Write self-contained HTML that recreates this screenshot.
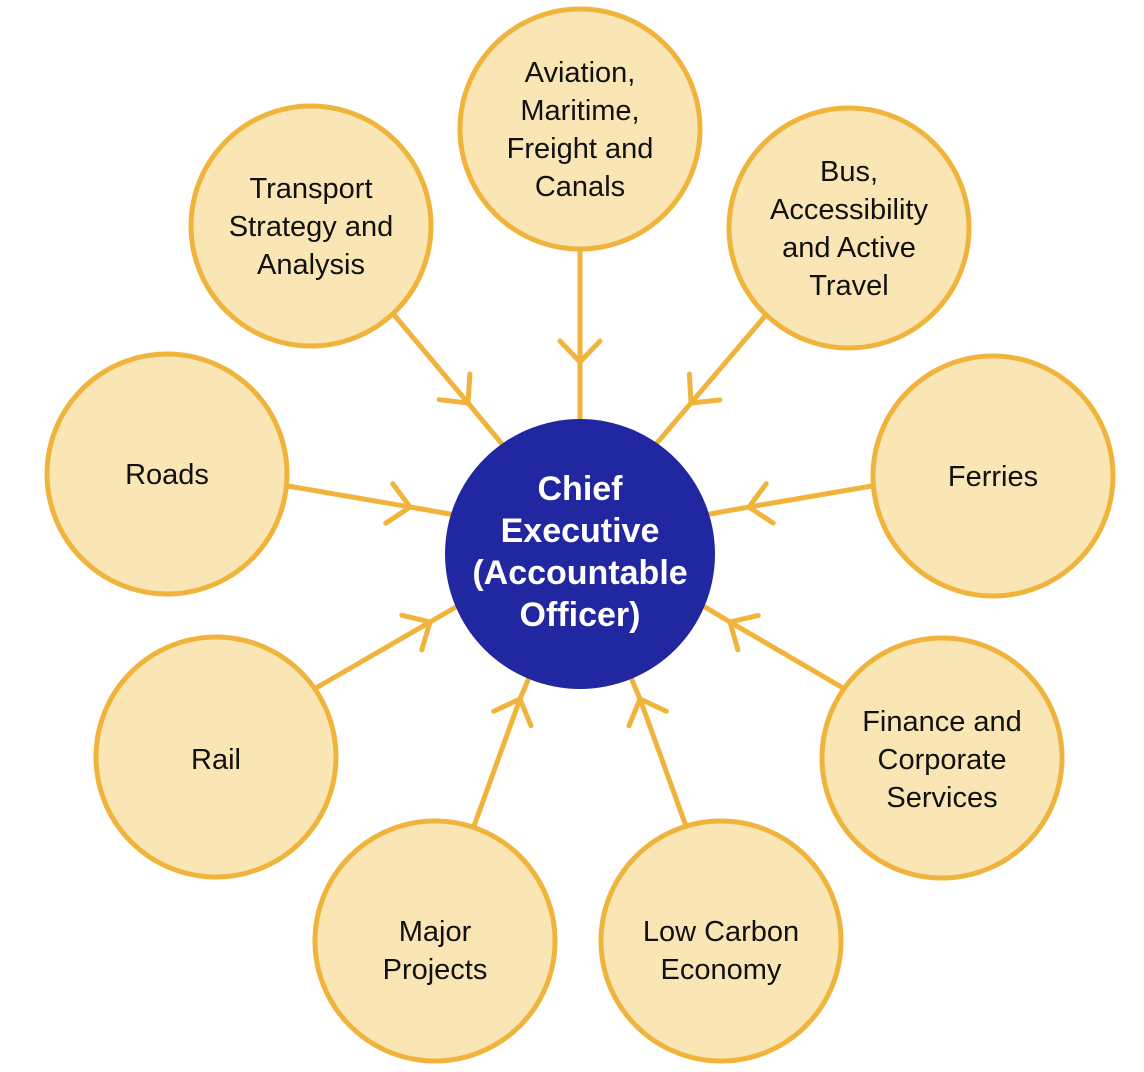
<!DOCTYPE html>
<html><head><meta charset="utf-8"><style>
html,body{margin:0;padding:0;background:#fff;width:1144px;height:1072px;overflow:hidden}
svg text{font-family:"Liberation Sans",sans-serif}
</style></head><body>
<svg width="1144" height="1072" viewBox="0 0 1144 1072" xmlns="http://www.w3.org/2000/svg">
<defs>
<marker id="m" markerUnits="userSpaceOnUse" markerWidth="80" markerHeight="80" refX="40" refY="40" orient="auto" viewBox="0 0 80 80">
<path d="M19,20 L40,40 L19,60" fill="none" stroke="#f0b43c" stroke-width="5" stroke-linecap="round" stroke-linejoin="round"/>
</marker>
</defs>
<g fill="none" stroke="#f0b43c" stroke-width="5" stroke-linecap="round" marker-mid="url(#m)">
<polyline points="580,250 580,362 580,420"/>
<polyline points="395,316 468,403 502,444"/>
<polyline points="766,315 691,403 657,443"/>
<polyline points="288,486 410,507 450,514"/>
<polyline points="872,486 749,507 710,514"/>
<polyline points="316,688 430,622 456,607"/>
<polyline points="843,688 730,622 705,607"/>
<polyline points="474,826 520,699 528,680"/>
<polyline points="686,826 640,699 632,680"/>
</g>
<g fill="#fae6b4" stroke="#f0b43c" stroke-width="5">
<circle cx="580" cy="129" r="120"/>
<circle cx="311" cy="226" r="120"/>
<circle cx="849" cy="228" r="120"/>
<circle cx="167" cy="474" r="120"/>
<circle cx="993" cy="476" r="120"/>
<circle cx="216" cy="757" r="120"/>
<circle cx="942" cy="758" r="120"/>
<circle cx="435" cy="941" r="120"/>
<circle cx="721" cy="941" r="120"/>
</g>
<circle cx="580" cy="554" r="135" fill="#2127a0"/>
<g font-size="29" fill="#111" text-anchor="middle">
<text x="580" y="82">Aviation,</text>
<text x="580" y="120">Maritime,</text>
<text x="580" y="158">Freight and</text>
<text x="580" y="196">Canals</text>
<text x="311" y="198">Transport</text>
<text x="311" y="236">Strategy and</text>
<text x="311" y="274">Analysis</text>
<text x="849" y="181">Bus,</text>
<text x="849" y="219">Accessibility</text>
<text x="849" y="257">and Active</text>
<text x="849" y="295">Travel</text>
<text x="167" y="484">Roads</text>
<text x="993" y="486">Ferries</text>
<text x="216" y="769">Rail</text>
<text x="942" y="731">Finance and</text>
<text x="942" y="769">Corporate</text>
<text x="942" y="807">Services</text>
<text x="435" y="941">Major</text>
<text x="435" y="979">Projects</text>
<text x="721" y="941">Low Carbon</text>
<text x="721" y="979">Economy</text>
</g>
<g font-size="34" font-weight="bold" fill="#fff" text-anchor="middle">
<text x="580" y="500">Chief</text>
<text x="580" y="542">Executive</text>
<text x="580" y="584">(Accountable</text>
<text x="580" y="626">Officer)</text>
</g>
</svg>
</body></html>
